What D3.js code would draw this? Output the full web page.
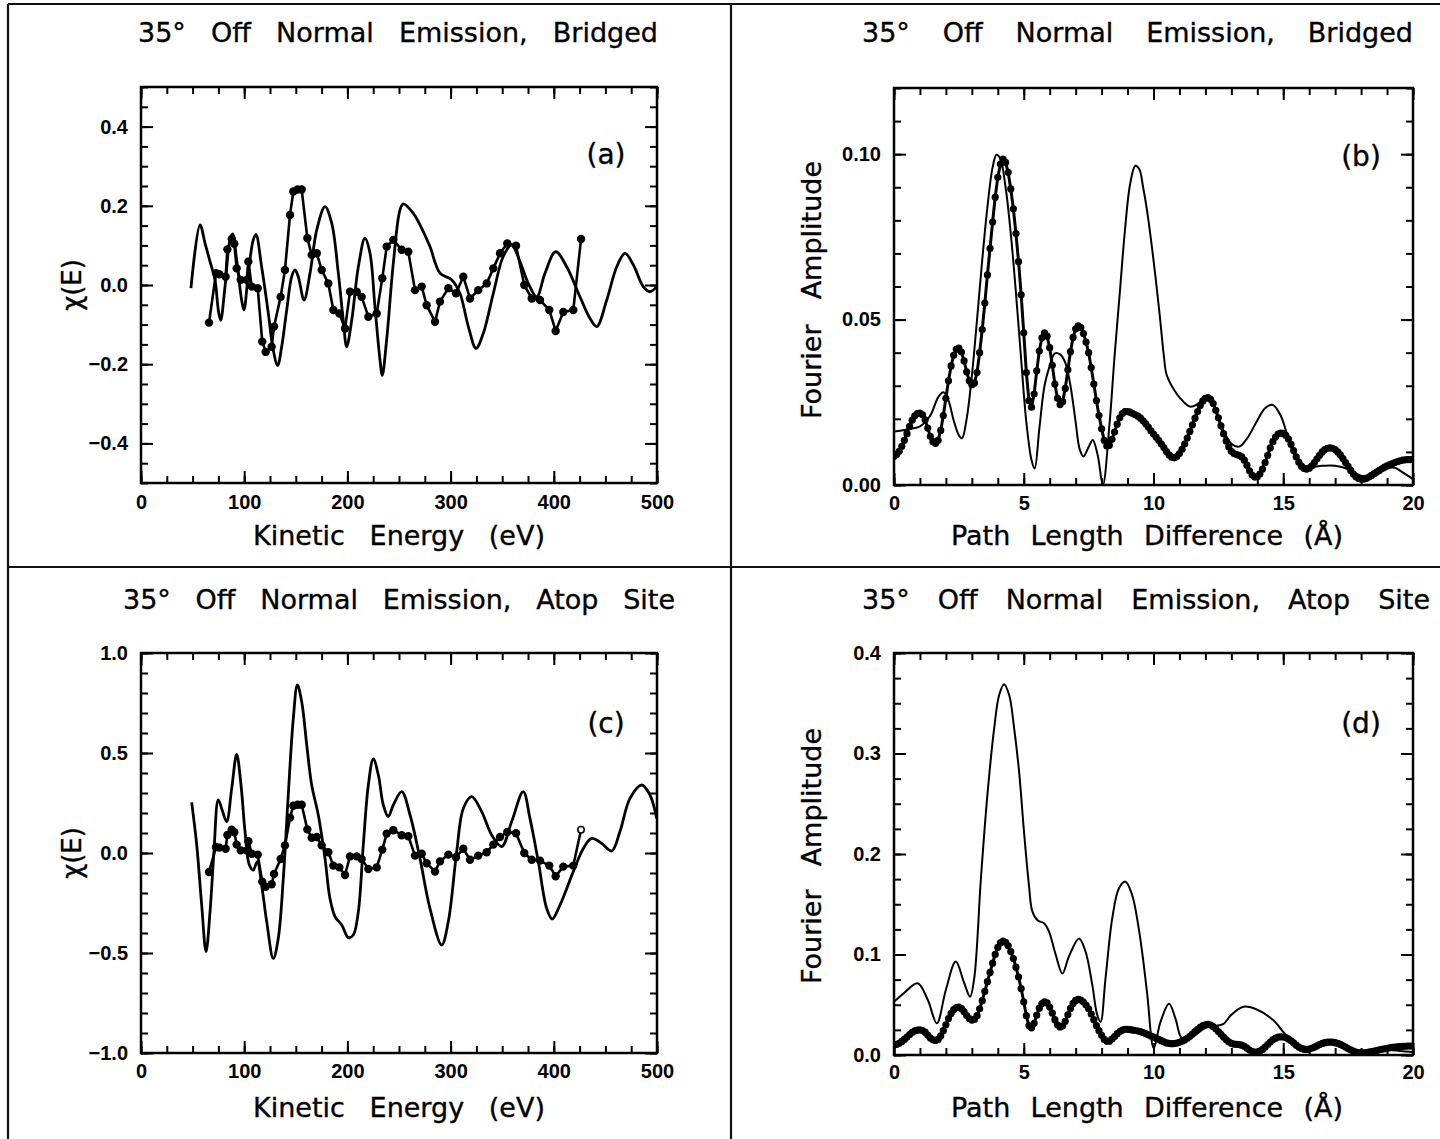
<!DOCTYPE html>
<html>
<head>
<meta charset="utf-8">
<script src="https://cdn.jsdelivr.net/npm/d3@7"></script>
<style>
  html, body { margin: 0; padding: 0; background: #fff; }
  svg { display: block; }
</style>
</head>
<body>
<svg id="fig" width="1440" height="1139"></svg>
<script>
// ---------- tick values ----------
const energyTicks = [0, 100, 200, 300, 400, 500];
const pathTicks = [0, 5, 10, 15, 20];
const chiTicksBridged = [-0.4, -0.2, 0, 0.2, 0.4];
const chiTicksAtop = [-1, -0.5, 0, 0.5, 1];
const ampTicksBridged = [0, 0.05, 0.1];
const ampTicksAtop = [0, 0.1, 0.2, 0.3, 0.4];

// ---------- measured chi(E), 35 deg off normal ----------
const expEnergy = [65.9,72.7,75.9,82.0,83.7,87.9,90.4,92.7,96.6,102.4,104.0,107.3,113.1,117.5,120.8,126.6,128.9,135.3,139.5,144.4,147.6,151.8,155.7,161.2,165.4,170.3,175.1,181.5,186.4,192.2,197.7,202.5,209.0,213.8,220.3,228.4,233.8,238.1,244.5,252.6,259.0,265.5,272.0,276.8,284.9,289.7,297.8,305.2,312.3,318.8,326.8,335.0,341.4,347.9,354.9,363.4,371.4,378.6,386.6,395.6,401.8,409.2,418.9,426.4];
const expChi = [-0.095,0.030,0.027,0.021,0.090,0.116,0.104,0.042,0.013,0.013,0.059,-0.004,-0.008,-0.143,-0.169,-0.156,-0.105,-0.030,0.038,0.177,0.236,0.241,0.241,0.118,0.076,0.080,0.038,0.004,-0.063,-0.072,-0.110,-0.017,-0.017,-0.030,-0.080,-0.072,0.017,0.097,0.114,0.089,0.084,-0.013,-0.004,-0.051,-0.093,-0.042,-0.008,-0.021,0.021,-0.034,-0.013,0.004,0.042,0.080,0.105,0.099,0.000,-0.034,-0.038,-0.063,-0.116,-0.068,-0.063,0.116];

// ---------- calculated chi(E), bridged site ----------
const bridgedEnergy = [48.4,57.2,62.0,66.9,71.7,74.9,77.2,81.4,86.2,88.8,92.7,97.5,99.8,104.0,108.8,111.4,116.9,123.4,128.2,132.4,136.3,141.2,146.0,149.2,152.4,158.0,163.8,170.3,178.3,184.8,191.2,196.0,199.3,204.2,210.6,217.0,221.9,226.7,231.6,233.8,238.0,244.5,251.0,254.2,263.9,272.0,280.0,289.7,301.0,309.0,317.2,324.6,331.7,341.4,351.0,359.2,367.2,375.3,383.4,391.5,401.8,412.5,425.4,435.0,441.6,451.3,461.0,469.0,477.0,486.7,493.2,499.7];
const bridgedChi = [-0.008,0.152,0.106,0.059,0.013,-0.063,-0.089,-0.004,0.114,0.129,0.063,-0.038,-0.063,0.030,0.114,0.127,0.046,-0.072,-0.165,-0.203,-0.156,-0.063,0.021,0.038,0.021,-0.038,0.030,0.139,0.198,0.156,0.030,-0.089,-0.156,-0.089,0.046,0.118,0.080,-0.055,-0.190,-0.228,-0.139,0.055,0.190,0.205,0.181,0.143,0.097,0.030,0.013,-0.021,-0.105,-0.160,-0.122,-0.021,0.072,0.101,0.059,0.004,-0.030,0.030,0.084,0.046,-0.030,-0.084,-0.105,-0.038,0.046,0.080,0.051,-0.004,-0.017,-0.004];

// ---------- calculated chi(E), atop site ----------
const atopEnergy = [49.1,54.0,58.8,63.0,66.9,70.7,74.9,79.1,83.0,87.9,92.7,96.9,100.8,105.0,108.8,112.7,116.9,121.8,128.2,133.0,137.9,142.7,147.6,151.5,155.7,160.6,165.4,171.8,178.3,183.1,188.0,194.5,200.9,205.7,210.6,215.4,220.3,225.1,230.0,234.8,239.6,244.5,252.6,260.7,270.3,280.0,291.4,297.8,305.9,312.3,320.4,330.1,339.8,349.5,359.2,370.4,376.9,385.0,393.1,398.5,406.0,418.9,428.6,436.7,446.4,456.1,464.1,473.8,485.2,493.2,499.7];
const atopChi = [0.253,0.04,-0.26,-0.493,-0.293,0.007,0.265,0.207,0.157,0.323,0.493,0.34,0.107,-0.06,-0.085,-0.043,-0.16,-0.343,-0.527,-0.427,-0.127,0.29,0.673,0.84,0.757,0.54,0.34,0.19,-0.027,-0.227,-0.318,-0.36,-0.423,-0.41,-0.293,0.04,0.34,0.47,0.39,0.24,0.182,0.24,0.307,0.19,-0.027,-0.277,-0.46,-0.343,0.007,0.223,0.282,0.207,0.09,0.032,0.157,0.307,0.173,-0.043,-0.277,-0.33,-0.26,-0.093,0.023,0.073,0.048,0.01,0.107,0.273,0.34,0.29,0.173];

// ---------- Fourier amplitudes of the measured curve, sampled every 0.1 A from 0 to 20 A ----------
const ftStep = 0.1;
const expFtBridged = [
0.0086,0.0092,0.0102,0.0117,0.0135,0.0155,0.0177,0.0196,0.0209,0.0216,
0.0217,0.0212,0.0197,0.0172,0.0147,0.0131,0.0126,0.0135,0.0165,0.0210,
0.0262,0.0315,0.0360,0.0392,0.0410,0.0414,0.0402,0.0375,0.0342,0.0315,
0.0303,0.0308,0.0340,0.0400,0.0470,0.0550,0.0635,0.0715,0.0795,0.0870,
0.0930,0.0970,0.0985,0.0975,0.0945,0.0895,0.0835,0.0760,0.0675,0.0575,
0.0460,0.0340,0.0255,0.0235,0.0275,0.0345,0.0405,0.0445,0.0460,0.0450,
0.0415,0.0362,0.0305,0.0262,0.0243,0.0252,0.0292,0.0348,0.0403,0.0446,
0.0472,0.0481,0.0476,0.0458,0.0432,0.0400,0.0355,0.0305,0.0255,0.0210,
0.0170,0.0135,0.0118,0.0120,0.0138,0.0160,0.0184,0.0203,0.0216,0.0222,
0.0222,0.0220,0.0216,0.0212,0.0208,0.0202,0.0194,0.0185,0.0175,0.0164,
0.0154,0.0145,0.0135,0.0124,0.0113,0.0101,0.0091,0.0084,0.0082,0.0086,
0.0095,0.0108,0.0124,0.0142,0.0162,0.0182,0.0202,0.0222,0.0240,0.0254,
0.0262,0.0264,0.0259,0.0246,0.0226,0.0203,0.0179,0.0155,0.0133,0.0115,
0.0102,0.0095,0.0092,0.0090,0.0085,0.0075,0.0060,0.0043,0.0030,0.0024,
0.0025,0.0033,0.0048,0.0068,0.0090,0.0112,0.0131,0.0145,0.0154,0.0157,
0.0156,0.0150,0.0139,0.0123,0.0104,0.0085,0.0069,0.0057,0.0050,0.0048,
0.0051,0.0058,0.0068,0.0079,0.0090,0.0100,0.0107,0.0111,0.0112,0.0111,
0.0107,0.0100,0.0091,0.0080,0.0068,0.0056,0.0044,0.0033,0.0025,0.0020,
0.0018,0.0018,0.0020,0.0024,0.0029,0.0034,0.0039,0.0044,0.0049,0.0054,
0.0058,0.0062,0.0065,0.0068,0.0071,0.0073,0.0075,0.0076,0.0077,0.0077,
0.0077];
const expFtAtop = [
0.0099,0.0106,0.0117,0.0135,0.0155,0.0178,0.0204,0.0225,0.0240,0.0248,
0.0250,0.0244,0.0227,0.0198,0.0169,0.0151,0.0145,0.0155,0.0190,0.0242,
0.0301,0.0362,0.0414,0.0451,0.0472,0.0476,0.0462,0.0431,0.0393,0.0362,
0.0348,0.0354,0.0391,0.0460,0.0541,0.0633,0.0730,0.0822,0.0914,0.1001,
0.1070,0.1116,0.1133,0.1121,0.1087,0.1029,0.0960,0.0874,0.0776,0.0661,
0.0529,0.0391,0.0293,0.0270,0.0316,0.0397,0.0466,0.0512,0.0529,0.0518,
0.0477,0.0416,0.0351,0.0301,0.0279,0.0290,0.0336,0.0400,0.0463,0.0513,
0.0543,0.0553,0.0547,0.0527,0.0497,0.0460,0.0408,0.0351,0.0293,0.0242,
0.0196,0.0155,0.0136,0.0138,0.0159,0.0184,0.0212,0.0233,0.0248,0.0255,
0.0255,0.0253,0.0248,0.0244,0.0239,0.0232,0.0223,0.0213,0.0201,0.0189,
0.0177,0.0167,0.0155,0.0143,0.0130,0.0120,0.0115,0.0113,0.0114,0.0118,
0.0126,0.0137,0.0150,0.0166,0.0186,0.0209,0.0232,0.0255,0.0276,0.0292,
0.0301,0.0304,0.0298,0.0283,0.0260,0.0233,0.0206,0.0178,0.0153,0.0132,
0.0117,0.0109,0.0106,0.0104,0.0098,0.0086,0.0069,0.0049,0.0035,0.0028,
0.0029,0.0038,0.0055,0.0078,0.0104,0.0129,0.0151,0.0167,0.0177,0.0181,
0.0179,0.0173,0.0160,0.0141,0.0120,0.0098,0.0079,0.0066,0.0058,0.0055,
0.0059,0.0067,0.0078,0.0091,0.0104,0.0115,0.0123,0.0128,0.0129,0.0128,
0.0123,0.0115,0.0105,0.0092,0.0078,0.0064,0.0051,0.0038,0.0029,0.0023,
0.0021,0.0021,0.0023,0.0028,0.0033,0.0039,0.0045,0.0051,0.0056,0.0062,
0.0067,0.0071,0.0075,0.0078,0.0082,0.0084,0.0086,0.0087,0.0089,0.0089,
0.0089];

// ---------- Fourier amplitudes of the calculated curves ----------
const bridgedFtPath = [0,0.5,1.0,1.4,1.7,1.9,2.1,2.3,2.5,2.62,2.8,3.0,3.2,3.4,3.6,3.8,3.95,4.1,4.3,4.5,4.7,4.9,5.1,5.3,5.42,5.6,5.8,6.0,6.2,6.4,6.6,6.8,7.0,7.15,7.3,7.5,7.66,7.85,8.05,8.3,8.5,8.7,8.9,9.1,9.3,9.45,9.6,9.75,10.0,10.23,10.4,10.5,10.75,11.0,11.4,11.7,12.03,12.3,12.6,13.0,13.3,13.6,14.0,14.3,14.6,14.9,15.2,15.5,15.9,16.5,17.0,17.5,18.0,18.5,19.0,19.3,19.6,20.0];
const bridgedFtAmp = [0.0162,0.0168,0.0177,0.0210,0.0265,0.0280,0.0255,0.0195,0.0150,0.0141,0.0200,0.0330,0.0500,0.0680,0.0840,0.0960,0.0998,0.0985,0.0900,0.0760,0.0580,0.0380,0.0190,0.0075,0.0050,0.0170,0.0300,0.0360,0.0398,0.0395,0.0370,0.0300,0.0190,0.0110,0.0086,0.0115,0.0136,0.0090,0.0,0.0180,0.0390,0.0580,0.0770,0.0910,0.0965,0.0955,0.0900,0.0830,0.0680,0.0520,0.0390,0.0335,0.0293,0.0265,0.0237,0.0245,0.0268,0.0240,0.0180,0.0125,0.0116,0.0140,0.0195,0.0232,0.0242,0.0210,0.0140,0.0080,0.0055,0.0058,0.0058,0.0048,0.0028,0.0032,0.0050,0.0052,0.0038,0.0018];
const atopFtPath = [0,0.4,0.91,1.3,1.65,2.0,2.38,2.7,2.93,3.09,3.35,3.6,3.86,4.05,4.24,4.44,4.63,4.82,5.01,5.2,5.33,5.53,5.78,5.97,6.23,6.49,6.74,7.13,7.38,7.64,7.83,7.96,8.15,8.41,8.67,8.92,9.18,9.43,9.6,9.76,10.01,10.27,10.6,10.85,11.1,11.5,12.0,12.4,12.7,13.0,13.47,14.0,14.6,15.0,15.5,16.0,16.5,17.0,17.5,18.0,18.5,19.0,19.5,20.0];
const atopFtAmp = [0.053,0.062,0.0713,0.055,0.0315,0.065,0.093,0.072,0.058,0.076,0.176,0.259,0.325,0.358,0.369,0.358,0.325,0.282,0.222,0.169,0.143,0.134,0.131,0.123,0.100,0.081,0.098,0.116,0.103,0.070,0.040,0.033,0.076,0.136,0.166,0.1725,0.159,0.126,0.095,0.060,0.0067,0.033,0.051,0.036,0.0166,0.018,0.027,0.029,0.031,0.040,0.048,0.045,0.035,0.023,0.008,0.004,0.009,0.012,0.006,0.002,0.003,0.005,0.004,0.003];

// ---------- layout and drawing ----------
const LABEL_FONT = '"DejaVu Sans", "Liberation Sans", Arial, sans-serif';
const TICK_FONT = '"Liberation Sans", "DejaVu Sans", Arial, sans-serif';
const svg = d3.select('#fig');

const zip = (xs, ys) => xs.map((x, i) => [x, ys[i]]);
const sampled = ys => ys.map((y, i) => [+(i * ftStep).toFixed(2), y]);
const steps = (d0, d1, step) => d3.range(Math.round((d1 - d0) / step) + 1).map(i => +(d0 + i * step).toFixed(4));

const panels = [
  {
    key: 'a', title: '35° Off Normal Emission, Bridged', titleX: 138, titleW: 520, titleY: 42,
    left: 141, right: 657, top: 87, bottom: 483,
    xDomain: [0, 500], yDomain: [-0.5, 0.5], xMinor: 25, yMinor: 0.05,
    xTicks: energyTicks, yTicks: chiTicksBridged, xFmt: d3.format('d'), yFmt: d3.format('.1f'), xPad: 12,
    xLabel: 'Kinetic Energy (eV)', xLabelX: 253, xLabelW: 292, xLabelY: 545,
    yLabel: 'χ(E)', yLabelX: 81, yLabelW: 46, yLabelC: 285,
    letter: '(a)', letterX: 606, letterY: 164,
    theory: { data: zip(bridgedEnergy, bridgedChi), width: 2.8 },
    measured: { data: zip(expEnergy, expChi), width: 2.6, r: 4.2, openLast: false }
  },
  {
    key: 'b', title: '35° Off Normal Emission, Bridged', titleX: 862, titleW: 551, titleY: 42,
    left: 894, right: 1413, top: 88, bottom: 485,
    xDomain: [0, 20], yDomain: [0, 0.12], xMinor: 1, yMinor: 0.01,
    xTicks: pathTicks, yTicks: ampTicksBridged, xFmt: d3.format('d'), yFmt: d3.format('.2f'), xPad: 11,
    xLabel: 'Path Length Difference (Å)', xLabelX: 951, xLabelW: 392, xLabelY: 545,
    yLabel: 'Fourier Amplitude', yLabelX: 821, yLabelW: 258, yLabelC: 290,
    letter: '(b)', letterX: 1361, letterY: 166,
    theory: { data: zip(bridgedFtPath, bridgedFtAmp), width: 2 },
    ft: sampled(expFtBridged)
  },
  {
    key: 'c', title: '35° Off Normal Emission, Atop Site', titleX: 123, titleW: 552, titleY: 609,
    left: 141, right: 657, top: 653, bottom: 1053,
    xDomain: [0, 500], yDomain: [-1, 1], xMinor: 25, yMinor: 0.1,
    xTicks: energyTicks, yTicks: chiTicksAtop, xFmt: d3.format('d'), yFmt: d3.format('.1f'), xPad: 11,
    xLabel: 'Kinetic Energy (eV)', xLabelX: 253, xLabelW: 292, xLabelY: 1117,
    yLabel: 'χ(E)', yLabelX: 81, yLabelW: 46, yLabelC: 853,
    letter: '(c)', letterX: 606, letterY: 733,
    theory: { data: zip(atopEnergy, atopChi), width: 2.8 },
    measured: { data: zip(expEnergy, expChi), width: 2.6, r: 4.2, openLast: true }
  },
  {
    key: 'd', title: '35° Off Normal Emission, Atop Site', titleX: 862, titleW: 568, titleY: 609,
    left: 894, right: 1413, top: 653, bottom: 1055,
    xDomain: [0, 20], yDomain: [0, 0.4], xMinor: 1, yMinor: 0.025,
    xTicks: pathTicks, yTicks: ampTicksAtop, xFmt: d3.format('d'), yFmt: d3.format('.1f'), xPad: 10,
    xLabel: 'Path Length Difference (Å)', xLabelX: 951, xLabelW: 392, xLabelY: 1117,
    yLabel: 'Fourier Amplitude', yLabelX: 821, yLabelW: 256, yLabelC: 856,
    letter: '(d)', letterX: 1361, letterY: 733,
    theory: { data: zip(atopFtPath, atopFtAmp), width: 2 },
    ft: sampled(expFtAtop)
  }
];

// widen the gaps between words so a label spans the given width
function spreadWords(sel, width) {
  const n = (sel.text().match(/ /g) || []).length;
  if (!n) return;
  const w = sel.node().getComputedTextLength();
  sel.style('word-spacing', Math.max(0, (width - w) / n) + 'px');
}

function label(g, txt, size) {
  return g.append('text').text(txt)
    .attr('font-family', LABEL_FONT).attr('font-size', size).attr('fill', '#000')
    .attr('stroke', '#000').attr('stroke-width', 0.35);
}

// outer figure rules
const rules = svg.append('g').attr('stroke', '#111').attr('stroke-width', 2.2);
rules.append('line').attr('x1', 8).attr('y1', 4).attr('x2', 1440).attr('y2', 4);
rules.append('line').attr('x1', 8).attr('y1', 4).attr('x2', 8).attr('y2', 1139);
rules.append('line').attr('x1', 731).attr('y1', 4).attr('x2', 731).attr('y2', 1139);
rules.append('line').attr('x1', 8).attr('y1', 567).attr('x2', 1440).attr('y2', 567);

function drawAxis(g, axis, transform, withLabels) {
  const a = g.append('g').attr('transform', transform).call(axis);
  a.select('.domain').remove();
  a.selectAll('line').attr('stroke', '#000').attr('stroke-width', 2);
  if (withLabels) {
    a.selectAll('text').attr('font-family', TICK_FONT).attr('font-size', 20)
      .attr('font-weight', 'bold').attr('fill', '#000');
  }
}

panels.forEach(p => {
  const g = svg.append('g').attr('class', 'panel-' + p.key);
  const x = d3.scaleLinear().domain(p.xDomain).range([p.left, p.right]);
  const y = d3.scaleLinear().domain(p.yDomain).range([p.bottom, p.top]);

  const clipId = 'clip-' + p.key;
  svg.append('clipPath').attr('id', clipId).append('rect')
    .attr('x', p.left).attr('y', p.top)
    .attr('width', p.right - p.left).attr('height', p.bottom - p.top);

  // ticks on all four sides, pointing inward
  const xMinor = steps(p.xDomain[0], p.xDomain[1], p.xMinor);
  const yMinor = steps(p.yDomain[0], p.yDomain[1], p.yMinor);
  const none = () => '';
  drawAxis(g, d3.axisBottom(x).tickValues(xMinor).tickSize(-7).tickFormat(none), `translate(0,${p.bottom})`, false);
  drawAxis(g, d3.axisTop(x).tickValues(xMinor).tickSize(-7).tickFormat(none), `translate(0,${p.top})`, false);
  drawAxis(g, d3.axisLeft(y).tickValues(yMinor).tickSize(-7).tickFormat(none), `translate(${p.left},0)`, false);
  drawAxis(g, d3.axisRight(y).tickValues(yMinor).tickSize(-7).tickFormat(none), `translate(${p.right},0)`, false);
  drawAxis(g, d3.axisBottom(x).tickValues(p.xTicks).tickSize(-12).tickPadding(p.xPad).tickFormat(p.xFmt), `translate(0,${p.bottom})`, true);
  drawAxis(g, d3.axisTop(x).tickValues(p.xTicks).tickSize(-12).tickFormat(none), `translate(0,${p.top})`, false);
  drawAxis(g, d3.axisLeft(y).tickValues(p.yTicks).tickSize(-12).tickPadding(13).tickFormat(p.yFmt), `translate(${p.left},0)`, true);
  drawAxis(g, d3.axisRight(y).tickValues(p.yTicks).tickSize(-12).tickFormat(none), `translate(${p.right},0)`, false);

  // plot frame
  g.append('rect').attr('x', p.left).attr('y', p.top)
    .attr('width', p.right - p.left).attr('height', p.bottom - p.top)
    .attr('fill', 'none').attr('stroke', '#000').attr('stroke-width', 2.5);

  const plot = g.append('g').attr('clip-path', `url(#${clipId})`);

  // calculated curve: smooth solid line
  const smooth = d3.line().x(d => x(d[0])).y(d => y(d[1])).curve(d3.curveCatmullRom.alpha(0.5));
  plot.append('path').datum(p.theory.data).attr('d', smooth)
    .attr('fill', 'none').attr('stroke', '#000').attr('stroke-width', p.theory.width)
    .attr('stroke-linejoin', 'round');

  const straight = d3.line().x(d => x(d[0])).y(d => y(d[1]));

  // measured chi(E): straight segments with filled dots
  if (p.measured) {
    const m = p.measured;
    plot.append('path').datum(m.data).attr('d', straight)
      .attr('fill', 'none').attr('stroke', '#000').attr('stroke-width', m.width)
      .attr('stroke-linejoin', 'round');
    const last = m.data.length - 1;
    const open = i => m.openLast && i === last;
    plot.selectAll('circle.pt').data(m.data).join('circle').attr('class', 'pt')
      .attr('cx', d => x(d[0])).attr('cy', d => y(d[1]))
      .attr('r', (d, i) => open(i) ? 3.2 : m.r)
      .attr('fill', (d, i) => open(i) ? '#fff' : '#000')
      .attr('stroke', '#000').attr('stroke-width', (d, i) => open(i) ? 1.5 : 0);
  }

  // Fourier transform of measured data: densely dotted heavy curve
  if (p.ft) {
    plot.append('path').datum(p.ft).attr('d', straight)
      .attr('fill', 'none').attr('stroke', '#000').attr('stroke-width', 3)
      .attr('stroke-linejoin', 'round');
    plot.selectAll('circle.ft').data(p.ft).join('circle').attr('class', 'ft')
      .attr('cx', d => x(d[0])).attr('cy', d => y(d[1])).attr('r', 3.6).attr('fill', '#000');
  }

  // texts
  const t = label(g, p.title, 27).attr('x', p.titleX).attr('y', p.titleY);
  spreadWords(t, p.titleW);
  const xl = label(g, p.xLabel, 27).attr('x', p.xLabelX).attr('y', p.xLabelY);
  spreadWords(xl, p.xLabelW);
  const yl = label(g, p.yLabel, p.yLabel.length > 6 ? 27 : 26).attr('text-anchor', 'middle')
    .attr('transform', `translate(${p.yLabelX},${p.yLabelC}) rotate(-90)`);
  spreadWords(yl, p.yLabelW);
  label(g, p.letter, 28).attr('text-anchor', 'middle').attr('x', p.letterX).attr('y', p.letterY);
});
</script>
</body>
</html>
